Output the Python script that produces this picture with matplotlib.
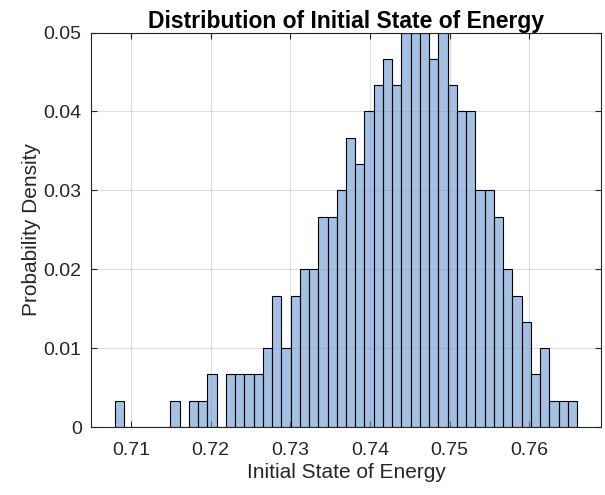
import numpy as np
import matplotlib
matplotlib.use('Agg')
import matplotlib.pyplot as plt

# Histogram: 300 samples, 50 equal bins, normalized as probability
bin_lo = 0.708
bin_hi = 0.766
n_samples = 300
counts = [1, 0, 0, 0, 0, 0, 1, 0, 1, 1,
          2, 0, 2, 2, 2, 2, 3, 5, 3, 5,
          6, 6, 8, 8, 9, 11, 10, 12, 13, 14,
          13, 15, 15, 15, 14, 15, 13, 12, 12, 9,
          9, 8, 6, 5, 4, 2, 3, 1, 1, 1]
x_ticks = [0.71, 0.72, 0.73, 0.74, 0.75, 0.76]
y_ticks = [0, 0.01, 0.02, 0.03, 0.04, 0.05]

edges = np.linspace(bin_lo, bin_hi, len(counts) + 1)
heights = np.array(counts) / n_samples

plt.rcParams['font.family'] = ['Liberation Sans', 'DejaVu Sans']

fig = plt.figure(figsize=(6.05, 4.95), dpi=100)
ax = fig.add_axes([91 / 605, 1 - 427 / 495, 510 / 605, (427 - 32.5) / 495])

ax.bar(edges[:-1], heights, width=np.diff(edges), align='edge',
       facecolor=(0.405, 0.60, 0.82, 0.6), edgecolor='black', linewidth=0.8)

ax.set_xlim(0.705, 0.769)
ax.set_ylim(0, 0.05)
ax.set_xticks(x_ticks)
ax.set_yticks(y_ticks)
ax.set_xticklabels([f'{t:.2f}' for t in x_ticks])
ax.set_yticklabels(['0', '0.01', '0.02', '0.03', '0.04', '0.05'])

ax.grid(True, color=(0.15, 0.15, 0.15), alpha=0.15, linewidth=0.8)
ax.set_axisbelow(True)
for s in ax.spines.values():
    s.set_color((0.15, 0.15, 0.15))
    s.set_linewidth(0.8)
ax.tick_params(direction='in', length=4, width=0.8, colors=(0.15, 0.15, 0.15),
               labelcolor='#262626', labelsize=14, top=True, right=True)
ax.tick_params(axis='x', pad=10.5)
ax.tick_params(axis='y', pad=6.7)

ax.set_xlabel('Initial State of Energy', fontsize=15, color='#262626', labelpad=3)
ax.set_ylabel('Probability Density', fontsize=15, color='#262626', labelpad=1.5)
ax.set_title('Distribution of Initial State of Energy', fontsize=16.5,
             fontweight='bold', pad=3)

fig.savefig('out.png', dpi=100)
